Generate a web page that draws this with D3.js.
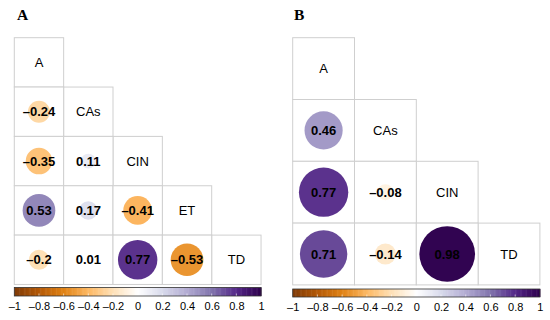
<!DOCTYPE html>
<html>
<head>
<meta charset="utf-8">
<script src="https://cdn.jsdelivr.net/npm/d3@7"></script>
<style>
  html, body { margin: 0; padding: 0; background: #fff; }
  svg { display: block; }
</style>
</head>
<body>
<svg id="chart" width="550" height="320"></svg>
<script>
// ---- data ----
const varsA = ["A", "CAs", "CIN", "ET", "TD"];
const rowA_CAs = [-0.24];
const rowA_CIN = [-0.35, 0.11];
const rowA_ET  = [0.53, 0.17, -0.41];
const rowA_TD  = [-0.2, 0.01, 0.77, -0.53];

const varsB = ["A", "CAs", "CIN", "TD"];
const rowB_CAs = [0.46];
const rowB_CIN = [0.77, -0.08];
const rowB_TD  = [0.71, -0.14, 0.98];

const colorbarTicks = [-1, -0.8, -0.6, -0.4, -0.2, 0, 0.2, 0.4, 0.6, 0.8, 1];
const paletteStops = ["#7F3B08", "#B35806", "#E08214", "#FDB863", "#FEE0B6", "#FFFFFF",
                      "#D8DAEB", "#B2ABD2", "#8073AC", "#542788", "#2D004B"];
const panelTitles = ["A", "B"];

// ---- helpers ----
const svg = d3.select("#chart");
const color = d3.scaleLinear().domain(colorbarTicks).range(paletteStops).interpolate(d3.interpolateRgb);
const fmt = v => String(v).replace("-", "\u2013");

function buildCells(vars, rows) {
  const cells = [];
  vars.forEach((v, i) => cells.push({ row: v, col: v, diag: true }));
  rows.forEach((vals, ri) => {
    const rowVar = vars[ri + 1];
    vals.forEach((val, ci) => cells.push({ row: rowVar, col: vars[ci], value: val, diag: false }));
  });
  return cells;
}

function drawPanel(opts) {
  const { vars, rows, x0, y0, cell, title, titleX, barY, barH } = opts;
  const n = vars.length;
  const x = d3.scaleBand().domain(vars).range([x0, x0 + n * cell]);
  const y = d3.scaleBand().domain(vars).range([y0, y0 + n * cell]);
  const r = d3.scaleSqrt().domain([0, 1]).range([0, 0.455 * cell]);
  const cells = buildCells(vars, rows);
  const g = svg.append("g");

  g.append("text")
    .attr("x", titleX).attr("y", 20)
    .attr("font-family", "Liberation Serif, Times New Roman, serif")
    .attr("font-weight", "bold").attr("font-size", 15.5)
    .text(title);

  g.selectAll("rect.cell").data(cells).join("rect")
    .attr("class", "cell")
    .attr("x", d => x(d.col)).attr("y", d => y(d.row))
    .attr("width", x.bandwidth()).attr("height", y.bandwidth())
    .attr("fill", "#fff").attr("stroke", "#cfcfcf").attr("stroke-width", 1);

  const off = cells.filter(d => !d.diag);
  g.selectAll("circle").data(off).join("circle")
    .attr("cx", d => x(d.col) + x.bandwidth() / 2)
    .attr("cy", d => y(d.row) + y.bandwidth() / 2)
    .attr("r", d => r(Math.abs(d.value)))
    .attr("fill", d => color(d.value));

  g.selectAll("text.val").data(off).join("text")
    .attr("class", "val")
    .attr("x", d => x(d.col) + x.bandwidth() / 2)
    .attr("y", d => y(d.row) + y.bandwidth() / 2)
    .attr("dy", "0.36em")
    .attr("text-anchor", "middle")
    .attr("font-family", "Liberation Sans, Arial, Helvetica, sans-serif")
    .attr("font-weight", "bold").attr("font-size", 13)
    .attr("fill", "#000")
    .text(d => fmt(d.value));

  g.selectAll("text.name").data(cells.filter(d => d.diag)).join("text")
    .attr("class", "name")
    .attr("x", d => x(d.col) + x.bandwidth() / 2)
    .attr("y", d => y(d.row) + y.bandwidth() / 2)
    .attr("dy", "0.36em")
    .attr("text-anchor", "middle")
    .attr("font-family", "Liberation Sans, Arial, Helvetica, sans-serif")
    .attr("font-size", 13)
    .attr("fill", "#000")
    .text(d => d.row);

  // colorbar
  const cb = d3.scaleLinear().domain([-1, 1]).range([x0, x0 + n * cell]);
  const steps = d3.range(200).map(i => -1 + (i + 0.5) * 2 / 200);
  const sw = (cb(1) - cb(-1)) / 200;
  const bar = g.append("g");
  bar.selectAll("rect").data(steps).join("rect")
    .attr("x", d => cb(d) - sw / 2).attr("y", barY)
    .attr("width", sw + 0.5).attr("height", barH)
    .attr("fill", d => color(d));
  bar.selectAll("line.tk").data(colorbarTicks.slice(1, -1)).join("line")
    .attr("class", "tk")
    .attr("x1", d => cb(d)).attr("x2", d => cb(d))
    .attr("y1", barY + barH).attr("y2", barY + barH - 2.5)
    .attr("stroke", "#ffffff").attr("stroke-opacity", 0.75).attr("stroke-width", 0.8);
  bar.append("rect")
    .attr("x", cb(-1)).attr("y", barY)
    .attr("width", cb(1) - cb(-1)).attr("height", barH)
    .attr("fill", "none").attr("stroke", "#333").attr("stroke-width", 0.8);

  const axis = d3.axisBottom(cb).tickValues(colorbarTicks).tickSize(0).tickPadding(0)
    .tickFormat(d => fmt(Math.round(d * 10) / 10));
  const ax = g.append("g").attr("transform", `translate(0,${barY + barH + 6.5})`).call(axis);
  ax.select(".domain").remove();
  ax.selectAll("text")
    .attr("font-family", "Liberation Sans, Arial, Helvetica, sans-serif")
    .attr("font-size", 11).attr("fill", "#000").attr("dy", "0.71em");
}

drawPanel({ vars: varsA, rows: [rowA_CAs, rowA_CIN, rowA_ET, rowA_TD],
            x0: 14.3, y0: 37.7, cell: 49.35, title: panelTitles[0], titleX: 17,
            barY: 287.5, barH: 8.5 });
drawPanel({ vars: varsB, rows: [rowB_CAs, rowB_CIN, rowB_TD],
            x0: 292.7, y0: 37.7, cell: 61.8, title: panelTitles[1], titleX: 294,
            barY: 289, barH: 8 });
</script>
</body>
</html>
